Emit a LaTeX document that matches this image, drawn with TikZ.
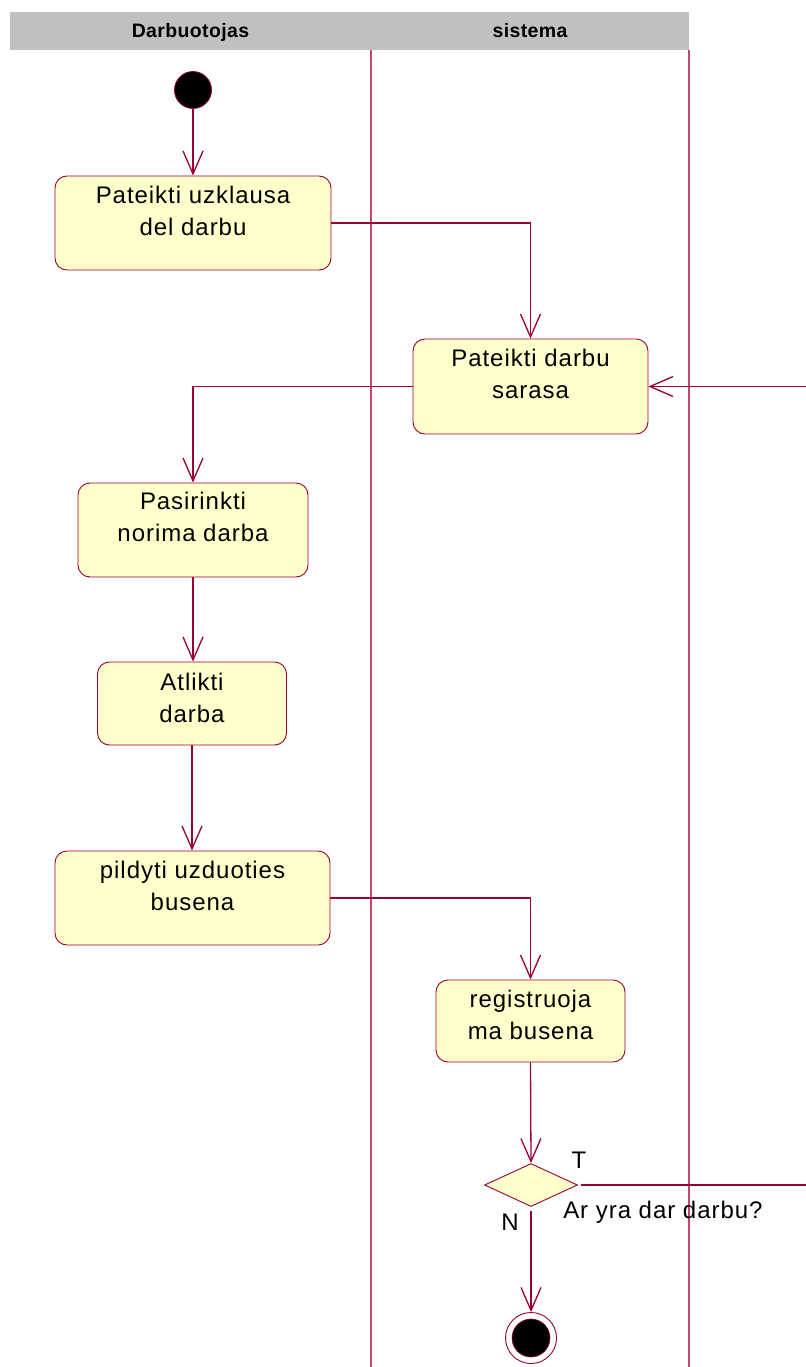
\documentclass[tikz,border=0pt]{standalone}
\usepackage{fontspec}
\setmainfont{Liberation Sans}
\newfontfamily\headfont[LetterSpace=2]{Liberation Sans}
\newfontfamily\actfont[LetterSpace=4]{Liberation Sans}
\usetikzlibrary{arrows.meta,shapes.geometric}
\definecolor{umlline}{RGB}{153,0,51}
\definecolor{laneline}{RGB}{196,70,112}
\definecolor{lanegray}{RGB}{192,192,192}
\definecolor{actfill}{RGB}{255,255,204}
\def\pxu{*0.75pt}
\tikzset{
  lanehead/.style={font=\headfont\bfseries\fontsize{14.6}{16}\selectfont, inner sep=0pt, anchor=base},
  actbox/.style={draw=umlline, fill=actfill, line width=0.9\pxu, rounded corners=12\pxu, inner sep=0pt},
  acttext/.style={font=\actfont\fontsize{18}{24}\selectfont, align=center, inner sep=0pt, anchor=base},
  flow/.style={draw=umlline, line width=1.3\pxu, -{Straight Barb[length=23\pxu, width=20\pxu, line width=1.3\pxu]}},
  guard/.style={font=\actfont\fontsize{18}{22}\selectfont, inner sep=0pt},
}
\begin{document}
\begin{tikzpicture}[x=0.75pt, y=-0.75pt]
\useasboundingbox (0,0) rectangle (806,1367);
\clip (0,0) rectangle (806,1367);
\fill[white] (0,0) rectangle (806,1367);

% swimlane header and dividers
\fill[lanegray] (10,12) rectangle (689,50);
\node[lanehead] (laneA) at (190.5,37) {Darbuotojas};
\node[lanehead] (laneB) at (530,37) {sistema};
\draw[laneline, line width=1.2\pxu] (371,50) -- (371,1367);
\draw[laneline, line width=1.2\pxu] (689,50) -- (689,1367);

% initial state
\node[circle, draw=umlline, fill=black, line width=0.8\pxu, minimum size=37\pxu, inner sep=0pt] (init) at (193,90) {};

% activities (text baselines: the node's base is its last line)
\node[actbox, minimum width=276\pxu, minimum height=94\pxu] (b1) at (193,223) {};
\node[acttext] (b1t) at (193,235) {Pateikti uzklausa\\del darbu};

\node[actbox, minimum width=235\pxu, minimum height=95\pxu] (b2) at (530.5,386.5) {};
\node[acttext] (b2t) at (530.5,398) {Pateikti darbu\\sarasa};

\node[actbox, minimum width=230\pxu, minimum height=94\pxu] (b3) at (193,530) {};
\node[acttext] (b3t) at (193,541) {Pasirinkti\\norima darba};

\node[actbox, minimum width=189\pxu, minimum height=83\pxu] (b4) at (192,703.5) {};
\node[acttext] (b4t) at (192,722) {Atlikti\\darba};

\node[actbox, minimum width=275\pxu, minimum height=94\pxu] (b5) at (192.5,898) {};
\node[acttext] (b5t) at (192.5,910) {pildyti uzduoties\\busena};

\node[actbox, minimum width=189\pxu, minimum height=82\pxu] (b6) at (530.5,1021) {};
\node[acttext] (b6t) at (530.5,1039) {registruoja\\ma busena};

% decision
\node[diamond, draw=umlline, fill=actfill, line width=0.9\pxu, minimum width=93\pxu, minimum height=43\pxu, inner sep=0pt] (dec) at (531,1185) {};
\node[guard] (gT) at (579,1160) {T};
\node[guard] (gN) at (510,1222) {N};
\node[guard, anchor=west] (gQ) at (563,1212) {Ar yra dar darbu?};

% final state
\node[circle, draw=umlline, fill=white, line width=0.9\pxu, minimum size=51\pxu, inner sep=0pt] (final) at (531,1338) {};
\node[circle, draw=umlline, fill=black, line width=0.6\pxu, minimum size=38\pxu, inner sep=0pt] (finaldot) at (531,1338) {};

% loop-back route outside the lanes
\coordinate (loopR) at (830,1185);
\coordinate (loopT) at (830,386.5);

% transitions
\draw[flow] (init) -- (b1.north);
\draw[flow] (b1.east) -- (b1.east -| b2.north) -- (b2.north);
\draw[flow] (b2.west) -- (b2.west -| b3.north) -- (b3.north);
\draw[flow] (b3.south) -- (b3.south |- b4.north);
\draw[flow] (b4.south) -- (b4.south |- b5.north);
\draw[flow] (b5.east) -- (b5.east -| b6.north) -- (b6.north);
\draw[flow] (b6.south) -- (dec.north);
\draw[flow, shorten <=3\pxu] (dec.east) -- (loopR) -- (loopT) -- (b2.east);
\draw[flow, shorten <=4\pxu] (dec.south) -- (final.north);
\end{tikzpicture}
\end{document}
